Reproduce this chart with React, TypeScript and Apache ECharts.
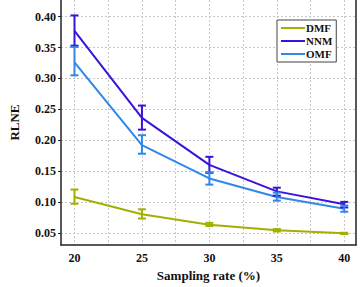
import React, { useEffect, useRef } from "react";
import * as echarts from "echarts";

const samplingRates = [20, 25, 30, 35, 40];
const xTickLabels = [20, 25, 30, 35, 40];
const xGridValues = [20, 22.5, 25, 27.5, 30, 32.5, 35, 37.5, 40];
const yTickValues = [0.05, 0.1, 0.15, 0.2, 0.25, 0.3, 0.35, 0.4];

const dmfMean = [0.108, 0.080, 0.063, 0.054, 0.049];
const dmfLow = [0.097, 0.073, 0.061, 0.052, 0.048];
const dmfHigh = [0.120, 0.088, 0.066, 0.056, 0.050];

const nnmMean = [0.377, 0.236, 0.160, 0.117, 0.096];
const nnmLow = [0.353, 0.217, 0.147, 0.110, 0.091];
const nnmHigh = [0.402, 0.256, 0.173, 0.123, 0.100];

const omfMean = [0.326, 0.192, 0.138, 0.108, 0.089];
const omfLow = [0.305, 0.178, 0.128, 0.102, 0.084];
const omfHigh = [0.351, 0.208, 0.148, 0.115, 0.094];

const COLORS = { DMF: "#a2b000", NNM: "#3b12dc", OMF: "#2f88e8" };
const FONT = "Liberation Serif";

function lineSeries(name: string, vals: number[], color: string) {
  return {
    name,
    type: "line",
    data: samplingRates.map((x, i) => [x, vals[i]]),
    symbol: "none",
    lineStyle: { color, width: 2 },
    itemStyle: { color },
    z: 3,
  };
}

function errSeries(name: string, low: number[], high: number[], color: string) {
  return {
    name: name + "-err",
    type: "custom",
    data: samplingRates.map((x, i) => [x, low[i], high[i]]),
    renderItem: (params: any, api: any) => {
      const x = api.value(0);
      const lo = api.coord([x, api.value(1)]);
      const hi = api.coord([x, api.value(2)]);
      const w = 4;
      const style = { stroke: color, lineWidth: 2 };
      return {
        type: "group",
        children: [
          { type: "line", shape: { x1: lo[0], y1: lo[1], x2: hi[0], y2: hi[1] }, style },
          { type: "line", shape: { x1: lo[0] - w, y1: lo[1], x2: lo[0] + w, y2: lo[1] }, style },
          { type: "line", shape: { x1: hi[0] - w, y1: hi[1], x2: hi[0] + w, y2: hi[1] }, style },
        ],
      };
    },
    z: 4,
  };
}

export default function App() {
  const ref = useRef<HTMLDivElement>(null);
  useEffect(() => {
    if (!ref.current) return;
    const chart = echarts.init(ref.current, undefined, { renderer: "svg" });
    const axisText = { fontFamily: FONT, fontWeight: "bold", fontSize: 12, color: "#111" };
    chart.setOption({
      animation: false,
      backgroundColor: "#fff",
      grid: { left: 54, right: 4, top: 0, bottom: 41, containLabel: false },
      legend: {
        data: ["DMF", "NNM", "OMF"],
        orient: "vertical",
        left: 277,
        top: 20,
        icon: "rect",
        itemWidth: 24,
        itemHeight: 2,
        itemGap: 1,
        padding: [2, 4, 2, 4],
        borderColor: "#444",
        borderWidth: 1,
        backgroundColor: "#fff",
        textStyle: { ...axisText, fontSize: 11, lineHeight: 12, padding: [0, 0, 0, -4] },
      },
      xAxis: {
        type: "value",
        min: 19,
        max: 40.87,
        name: "Sampling rate (%)",
        nameLocation: "middle",
        nameGap: 22,
        nameTextStyle: { ...axisText, fontSize: 13 },
        axisLine: { show: true, lineStyle: { color: "#222", width: 1.5 } },
        axisTick: { show: false, customValues: xGridValues },
        axisLabel: { ...axisText, customValues: xTickLabels, margin: 7 },
        splitLine: { show: true, lineStyle: { color: "#c4c8c8", type: [2, 2], width: 1 } },
      },
      yAxis: [
        {
          type: "value",
          min: 0.03,
          max: 0.427,
          name: "RLNE",
          nameLocation: "middle",
          nameGap: 40,
          nameRotate: 90,
          nameTextStyle: { ...axisText, fontSize: 13 },
          axisLine: { show: true, lineStyle: { color: "#222", width: 1.5 } },
          axisTick: { show: true, length: 3, customValues: yTickValues, lineStyle: { color: "#222" } },
          axisLabel: {
            ...axisText,
            margin: 5,
            customValues: yTickValues,
            formatter: (v: number) => v.toFixed(2),
          },
          splitLine: { show: true, lineStyle: { color: "#c4c8c8", type: [2, 2], width: 1 } },
        },
        {
          type: "value",
          position: "right",
          min: 0.03,
          max: 0.427,
          axisLine: { show: true, lineStyle: { color: "#222", width: 1.5 } },
          axisTick: { show: false },
          axisLabel: { show: false },
          splitLine: { show: false },
        },
      ],
      series: [
        lineSeries("DMF", dmfMean, COLORS.DMF),
        lineSeries("NNM", nnmMean, COLORS.NNM),
        lineSeries("OMF", omfMean, COLORS.OMF),
        errSeries("DMF", dmfLow, dmfHigh, COLORS.DMF),
        errSeries("NNM", nnmLow, nnmHigh, COLORS.NNM),
        errSeries("OMF", omfLow, omfHigh, COLORS.OMF),
      ],
    });
    return () => chart.dispose();
  }, []);
  return <div ref={ref} style={{ width: 360, height: 287, position: "absolute", left: 0, top: 0 }} />;
}
